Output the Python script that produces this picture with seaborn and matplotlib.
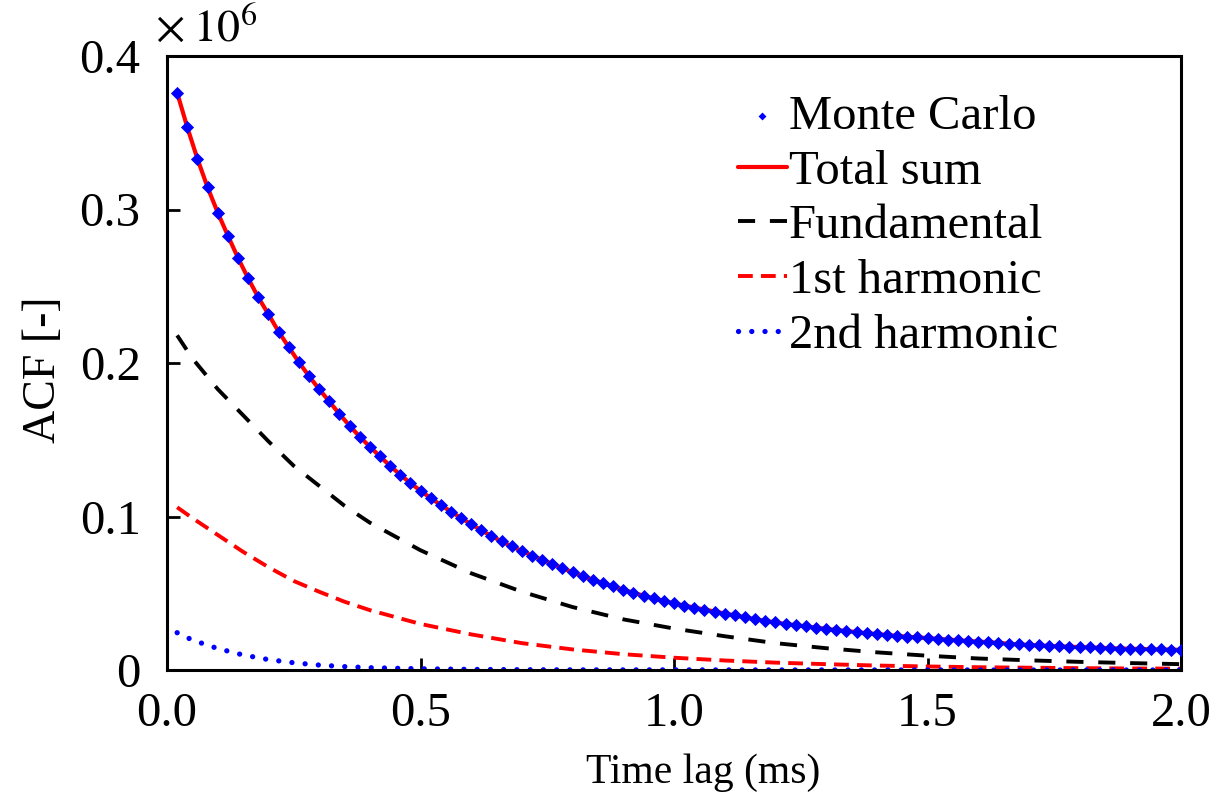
import numpy as np
import pandas as pd
import matplotlib
matplotlib.use("Agg")
import matplotlib.pyplot as plt
import seaborn as sns
from matplotlib.ticker import FuncFormatter, FixedLocator

# ---------------- data (ACF in units of 10^6) ----------------
mc_lag = np.linspace(0.02, 2.00, 100)          # sampling grid of the Monte Carlo points (ms)
monte_carlo = [
    0.3761, 0.3536, 0.3330, 0.3145, 0.2980, 0.2830, 0.2685, 0.2552, 0.2428, 0.2318,
    0.2205, 0.2104, 0.2006, 0.1915, 0.1830, 0.1750, 0.1668, 0.1592, 0.1520, 0.1455,
    0.1392, 0.1330, 0.1272, 0.1218, 0.1168, 0.1120, 0.1075, 0.1032, 0.0990, 0.0950,
    0.0910, 0.0873, 0.0838, 0.0805, 0.0775, 0.0745, 0.0718, 0.0692, 0.0664, 0.0636,
    0.0612, 0.0588, 0.0566, 0.0544, 0.0523, 0.0503, 0.0484, 0.0466, 0.0450, 0.0434,
    0.0420, 0.0407, 0.0394, 0.0381, 0.0368, 0.0356, 0.0343, 0.0331, 0.0320, 0.0310,
    0.0300, 0.0292, 0.0284, 0.0276, 0.0268, 0.0261, 0.0254, 0.0247, 0.0240, 0.0234,
    0.0228, 0.0222, 0.0217, 0.0212, 0.0208, 0.0203, 0.0198, 0.0194, 0.0189, 0.0185,
    0.0181, 0.0177, 0.0171, 0.0167, 0.0163, 0.0160, 0.0157, 0.0154, 0.0152, 0.0149,
    0.0147, 0.0145, 0.0142, 0.0140, 0.0138, 0.0137, 0.0135, 0.0134, 0.0133, 0.0131,
]
# the fitted total sum runs through the Monte Carlo points
total_sum = list(monte_carlo)

comp_lag = [0.02, 0.05, 0.10, 0.15, 0.20, 0.25, 0.30, 0.35, 0.40, 0.50, 0.60, 0.70,
            0.80, 0.90, 1.00, 1.10, 1.20, 1.30, 1.40, 1.50, 1.60, 1.70, 1.80, 1.90, 2.00]
fundamental = [0.218, 0.203, 0.183, 0.166, 0.149, 0.133, 0.120, 0.107, 0.096, 0.078,
               0.063, 0.051, 0.041, 0.033, 0.027, 0.022, 0.0175, 0.0142, 0.0115, 0.0093,
               0.0075, 0.0063, 0.0053, 0.0045, 0.0038]
first_harmonic = [0.106, 0.099, 0.088, 0.077, 0.067, 0.058, 0.051, 0.0445, 0.039, 0.030,
                  0.0232, 0.0175, 0.0134, 0.0103, 0.0080, 0.0062, 0.0048, 0.0038, 0.0029,
                  0.0023, 0.0018, 0.0015, 0.0012, 0.0010, 0.0009]
second_harmonic = [0.0243, 0.0195, 0.0140, 0.0098, 0.0068, 0.0047, 0.0032, 0.0022, 0.0015,
                   0.0008, 0.0004, 0.0002, 0.0001, 0.0001, 0.0001, 0.00005, 0.00005,
                   0.00005, 0.00003, 0.00003, 0.00002, 0.00002, 0.00001, 0.00001, 0.00001]

x_ticks = [0.0, 0.5, 1.0, 1.5, 2.0]
y_ticks = [0.0, 0.1, 0.2, 0.3, 0.4]
labels = ["Monte Carlo", "Total sum", "Fundamental", "1st harmonic", "2nd harmonic"]

# ---------------- style ----------------
sns.set_theme(style="ticks")
plt.rcParams["font.family"] = ["Liberation Serif", "DejaVu Serif"]
plt.rcParams["mathtext.fontset"] = "stix"
for k in ["text.color", "axes.labelcolor", "xtick.color", "ytick.color",
          "xtick.labelcolor", "ytick.labelcolor"]:
    plt.rcParams[k] = "black"

fig = plt.figure(figsize=(12.14, 8.01), dpi=100)
ax = fig.add_axes([167 / 1214, 1 - 670 / 801, (1181 - 167) / 1214, (670 - 56) / 801])

df_mc = pd.DataFrame({"lag": mc_lag, "acf": monte_carlo})
df_tot = pd.DataFrame({"lag": mc_lag, "acf": total_sum})
df_comp = pd.DataFrame({"lag": comp_lag, "fund": fundamental,
                        "h1": first_harmonic, "h2": second_harmonic})

sns.lineplot(data=df_tot, x="lag", y="acf", ax=ax, color="#ff0000", lw=3.0,
             label=labels[1], zorder=3)
sns.lineplot(data=df_comp, x="lag", y="fund", ax=ax, color="black", lw=2.8,
             linestyle=(0, (4.4, 3.8)), label=labels[2], zorder=2)
sns.lineplot(data=df_comp, x="lag", y="h1", ax=ax, color="#ff0000", lw=2.8,
             linestyle=(0, (3.8, 2.1)), label=labels[3], zorder=2)
sns.lineplot(data=df_comp, x="lag", y="h2", ax=ax, color="#0000ff", lw=3.8,
             linestyle=(0, (0.01, 2.5)), dash_capstyle="round", label=labels[4], zorder=2)
sns.scatterplot(data=df_mc, x="lag", y="acf", ax=ax, color="#0000ff", marker="D",
                s=45, edgecolor="#0000ff", linewidth=0, label=labels[0], zorder=4)

ax.set_xlim(0, 2.0)
ax.set_ylim(0, 0.4)
ax.xaxis.set_major_locator(FixedLocator(x_ticks))
ax.yaxis.set_major_locator(FixedLocator(y_ticks))
ax.xaxis.set_major_formatter(FuncFormatter(lambda v, p: f"{v:.1f}"))
ax.yaxis.set_major_formatter(FuncFormatter(lambda v, p: "0" if abs(v) < 1e-9 else f"{v:.1f}"))
ax.tick_params(axis="both", direction="in", length=9, width=2, labelsize=35,
               colors="black", top=False, right=False)
ax.tick_params(axis="y", pad=19)
ax.tick_params(axis="x", pad=16)
for sp in ax.spines.values():
    sp.set_linewidth(2.2)
    sp.set_color("black")
    sp.set_visible(True)

ax.set_xlabel("Time lag (ms)", fontsize=30)
ax.xaxis.set_label_coords((703 - 167) / (1181 - 167), -(773 - 670) / (670 - 56))
ax.xaxis.label.set_va("center")
ax.set_ylabel("ACF [-]", fontsize=33)
ax.yaxis.set_label_coords(-(167 - 44) / (1181 - 167), (670 - 370) / (670 - 56))
ax.yaxis.label.set_va("center")
fig.text(155 / 1214, 1 - 30 / 801, r"$\times\;10^{6}$", fontsize=33, ha="left", va="center")

handles, labs = ax.get_legend_handles_labels()
order = [labs.index(l) for l in labels]
leg = ax.legend([handles[i] for i in order], [labs[i] for i in order],
                loc="upper left", bbox_to_anchor=(738 / 1214, 1 - 95 / 801),
                bbox_transform=fig.transFigure, frameon=False, fontsize=35,
                handlelength=1.0, handletextpad=0.05, labelspacing=0.22,
                borderpad=0, borderaxespad=0, markerscale=0.6)

fig.savefig("out.png", dpi=100)
